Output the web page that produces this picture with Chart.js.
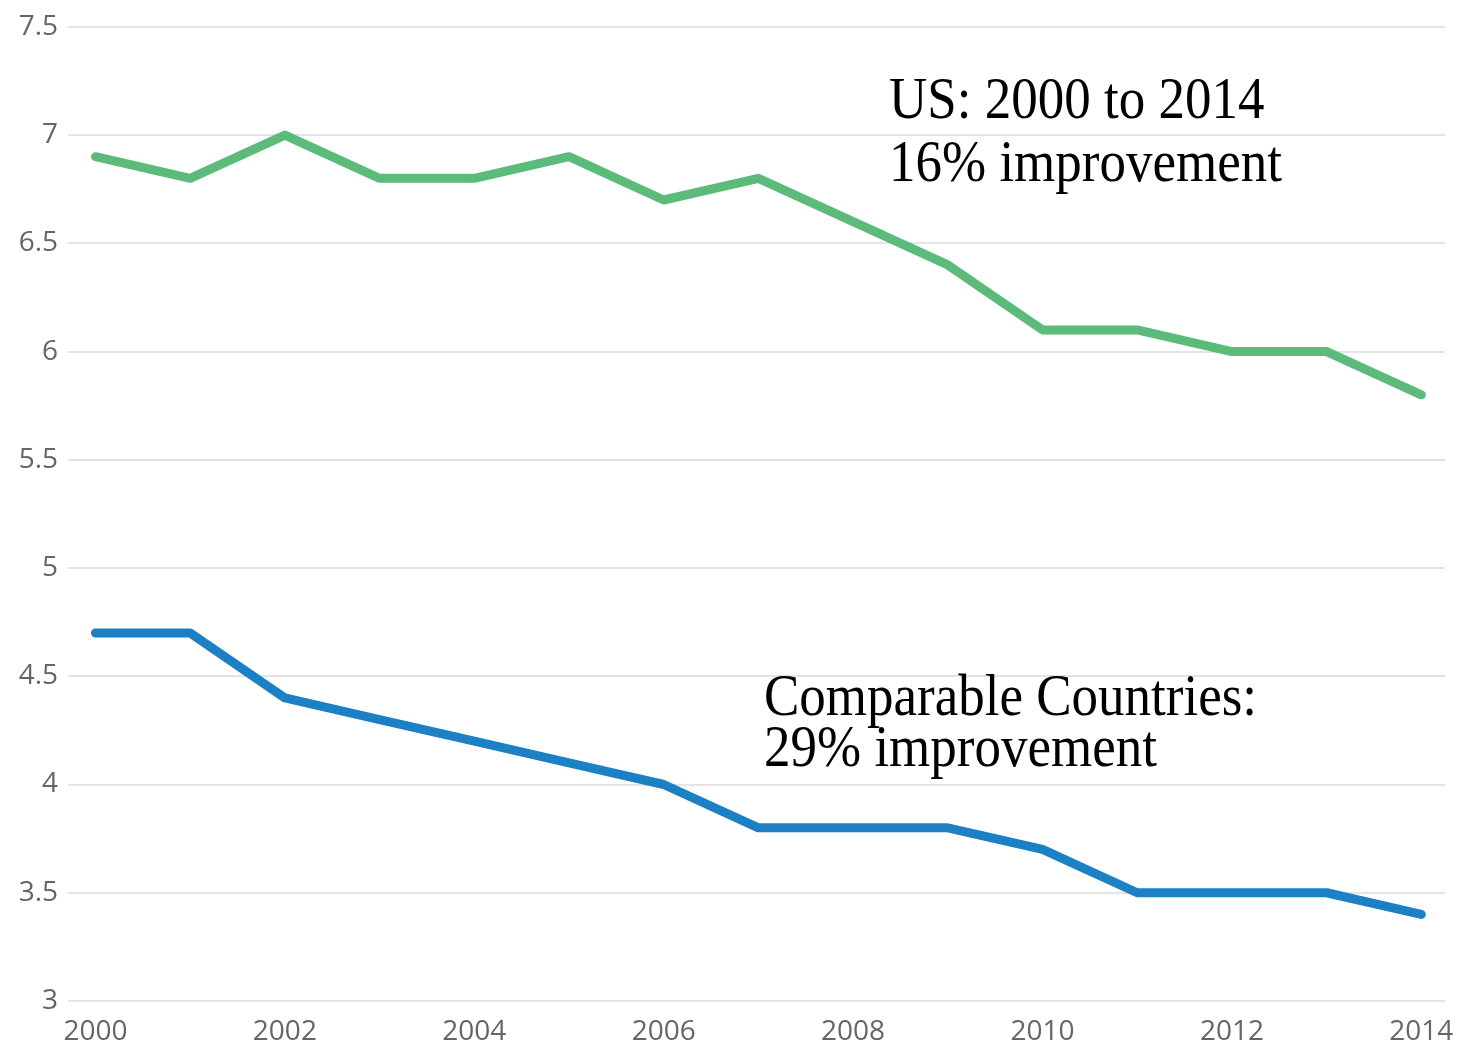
<!DOCTYPE html>
<html>
<head>
<meta charset="utf-8">
<script src="https://cdn.jsdelivr.net/npm/chart.js@4/dist/chart.umd.min.js"></script>
<style>
  html, body { margin: 0; padding: 0; background: #fff; }
  #chartRate { display: block; }
</style>
</head>
<body>
<canvas id="chartRate" width="1463" height="1044"></canvas>
<script>
// data
var years = [2000, 2001, 2002, 2003, 2004, 2005, 2006, 2007, 2008, 2009, 2010, 2011, 2012, 2013, 2014];
var usValues = [6.9, 6.8, 7.0, 6.8, 6.8, 6.9, 6.7, 6.8, 6.6, 6.4, 6.1, 6.1, 6.0, 6.0, 5.8];
var comparableValues = [4.7, 4.7, 4.4, 4.3, 4.2, 4.1, 4.0, 3.8, 3.8, 3.8, 3.7, 3.5, 3.5, 3.5, 3.4];
var xTickYears = [2000, 2002, 2004, 2006, 2008, 2010, 2012, 2014];
var yTickValues = [3, 3.5, 4, 4.5, 5, 5.5, 6, 6.5, 7, 7.5];

var usNote = ["US: 2000 to 2014", "16% improvement"];
var comparableNote = ["Comparable Countries:", "29% improvement"];

function toPoints(vals) {
    return years.map(function (y, i) { return { x: y, y: vals[i] }; });
}

// the two text notes on the plot
var notesPlugin = {
    id: 'notes',
    afterDraw: function (chart) {
        var ctx = chart.ctx;
        function drawNote(lines, x, y0, step) {
            ctx.save();
            ctx.fillStyle = '#000';
            ctx.font = '53px "Liberation Serif", "Times New Roman", serif';
            ctx.textBaseline = 'alphabetic';
            ctx.textAlign = 'left';
            lines.forEach(function (txt, i) {
                ctx.save();
                ctx.translate(x, y0 + i * step);
                ctx.scale(1, 1.1);
                ctx.fillText(txt, 0, 0);
                ctx.restore();
            });
            ctx.restore();
        }
        drawNote(usNote, 889, 118, 63);
        drawNote(comparableNote, 764, 715, 51);
    }
};

var myChart = new Chart(document.getElementById('chartRate').getContext('2d'), {
    type: 'line',
    data: {
        datasets: [{
            label: 'US',
            data: toPoints(usValues),
            borderColor: 'rgb(92,186,122)',
            borderWidth: 9,
            borderCapStyle: 'round',
            borderJoinStyle: 'round',
            pointRadius: 0,
            tension: 0
        },
        {
            label: 'Comparable Countries',
            data: toPoints(comparableValues),
            borderColor: 'rgb(28,128,196)',
            borderWidth: 9,
            borderCapStyle: 'round',
            borderJoinStyle: 'round',
            pointRadius: 0,
            tension: 0
        }]
    },
    options: {
        responsive: false,
        maintainAspectRatio: false,
        animation: false,
        layout: { padding: { top: 22, right: 18, bottom: 0, left: 0 } },
        plugins: {
            legend: { display: false },
            tooltip: { enabled: false }
        },
        scales: {
            x: {
                type: 'linear',
                min: 1999.71,
                max: 2014.25,
                afterBuildTicks: function (scale) {
                    scale.ticks = xTickYears.map(function (v) { return { value: v }; });
                },
                afterFit: function (scale) { scale.height = 43; },
                grid: { display: false },
                border: { display: false },
                ticks: {
                    autoSkip: false,
                    maxRotation: 0,
                    padding: 6,
                    color: '#666',
                    font: { family: '"Open Sans", "DejaVu Sans", sans-serif', size: 28 },
                    callback: function (v) { return String(v); }
                }
            },
            y: {
                min: 3,
                max: 7.5,
                afterBuildTicks: function (scale) {
                    scale.ticks = yTickValues.map(function (v) { return { value: v }; });
                },
                afterFit: function (scale) { scale.width = 68; },
                grid: { color: '#e4e4e4', lineWidth: 2, drawTicks: false },
                border: { display: false },
                ticks: {
                    padding: 10,
                    color: '#666',
                    font: { family: '"Open Sans", "DejaVu Sans", sans-serif', size: 28 },
                    callback: function (v) { return String(v); }
                }
            }
        }
    },
    plugins: [notesPlugin]
});
</script>
</body>
</html>
